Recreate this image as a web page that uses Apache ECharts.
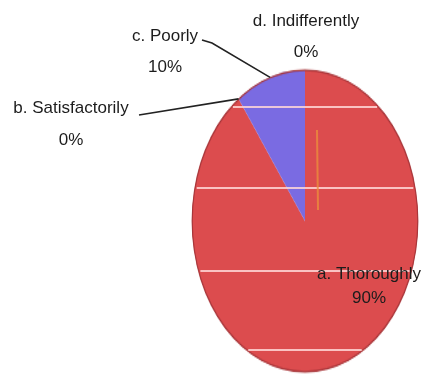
<!DOCTYPE html>
<html>
<head>
<meta charset="utf-8">
<script src="https://cdn.jsdelivr.net/npm/echarts@6/dist/echarts.min.js"></script>
<style>
  html, body { margin: 0; padding: 0; background: #fff; }
  #wrap { position: relative; width: 421px; height: 378px; overflow: hidden; }
  #pie, #notes { position: absolute; left: 0; top: 0; width: 421px; height: 378px; }
  /* the pie is drawn as an upright ellipse */
  #pie { transform: scaleY(1.336); transform-origin: 0 221px; }
</style>
</head>
<body>
<div id="wrap">
  <div id="pie"></div>
  <div id="notes"></div>
</div>
<script>
// Answers and their shares (percent)
const categories = ['a. Thoroughly', 'b. Satisfactorily', 'c. Poorly', 'd. Indifferently'];
const shares = [90, 0, 10, 0];
const sliceColors = ['#dc4c4e', '#dc4c4e', '#7a6be2', '#dc4c4e'];

// geometry of the ellipse
const CX = 305, CY = 221, RX = 113, RY = 151;

const pieChart = echarts.init(document.getElementById('pie'), null, { renderer: 'canvas' });
pieChart.setOption({
  animation: false,
  series: [{
    type: 'pie',
    center: [CX, CY],
    radius: RX,
    startAngle: 90,
    clockwise: true,
    silent: true,
    label: { show: false },
    labelLine: { show: false },
    itemStyle: { borderWidth: 0 },
    data: categories.map((name, i) => ({
      name, value: shares[i], itemStyle: { color: sliceColors[i] }
    }))
  }, {
    // dark rim round the outside
    type: 'pie',
    center: [CX, CY],
    radius: [RX - 0.8, RX + 0.4],
    silent: true,
    label: { show: false },
    labelLine: { show: false },
    itemStyle: { color: '#a8363a' },
    data: [{ name: 'rim', value: 1 }]
  }]
});

// point on the rim at a fraction of the full turn, clockwise from 12 o'clock
const total = shares.reduce((a, b) => a + b, 0);
function rim(frac) {
  const t = frac * 2 * Math.PI;
  return [CX + RX * Math.sin(t), CY - RY * Math.cos(t)];
}
const starts = [];
let acc = 0;
shares.forEach(v => { starts.push(acc / total); acc += v; });
const mids = shares.map((v, i) => starts[i] + v / total / 2);

const FONT = '17px "Liberation Sans", Arial, sans-serif';
function label(i, x, y, lh) {
  return {
    type: 'text', z: 10,
    style: {
      text: categories[i] + '\n' + shares[i] + '%',
      x, y, align: 'center', verticalAlign: 'middle',
      font: FONT, lineHeight: lh, fill: '#1c1c1c'
    }
  };
}

const graphics = [];
// pale streaks across the pie, kept inside the rim
[107, 188, 271, 350].forEach(y => {
  const k = (y - CY) / RY;
  const half = RX * Math.sqrt(Math.max(0, 1 - k * k)) - 2;
  graphics.push({
    type: 'line', z: 1, silent: true,
    shape: { x1: CX - half, y1: y, x2: CX + half, y2: y },
    style: { stroke: 'rgba(255,215,215,0.85)', lineWidth: 2 }
  });
});
graphics.push({
  type: 'line', z: 1, silent: true,
  shape: { x1: 317, y1: 130, x2: 318, y2: 210 },
  style: { stroke: 'rgba(235,140,60,0.8)', lineWidth: 2 }
});

// leader lines
const bEnd = rim(starts[1]);
graphics.push({
  type: 'polyline', z: 5,
  shape: { points: [[139, 115], bEnd] },
  style: { stroke: '#222', lineWidth: 1.6, fill: null }
});
const cEnd = rim(mids[2]);
graphics.push({
  type: 'polyline', z: 5,
  shape: { points: [[202, 40], [212, 43], cEnd] },
  style: { stroke: '#222', lineWidth: 1.6, fill: null }
});

graphics.push(label(0, 369, 286, 24));
graphics.push(label(1, 71, 124, 32));
graphics.push(label(2, 165, 52, 31));
graphics.push(label(3, 306, 37, 31));

const notes = echarts.init(document.getElementById('notes'), null, { renderer: 'canvas' });
notes.setOption({ animation: false, graphic: graphics });
</script>
</body>
</html>
